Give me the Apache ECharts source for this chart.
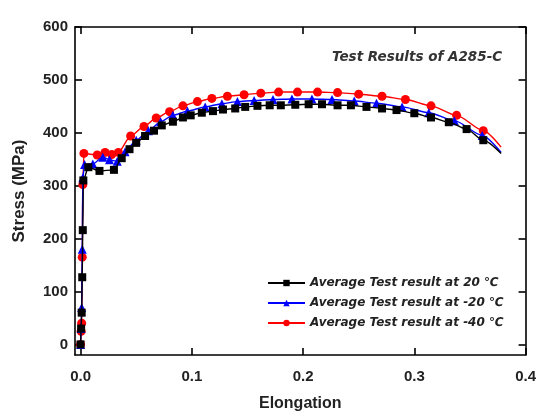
<!DOCTYPE html>
<html><head><meta charset="utf-8">
<script src="https://cdn.jsdelivr.net/npm/echarts@6/dist/echarts.min.js"></script>
<style>html,body{margin:0;padding:0;background:#fff}#c{width:539px;height:417px}</style>
</head><body><div id="c"></div>
<script>
var seriesNames = ['Average Test result at 20 \u2103', 'Average Test result at -20 \u2103', 'Average Test result at -40 \u2103'];
var xTicks = [0, 0.1, 0.2, 0.3, 0.4];
var yTicks = [0, 100, 200, 300, 400, 500, 600];
var titleText = 'Test Results of A285-C';

var strain20 = [0, 0.0005, 0.001, 0.0015, 0.002, 0.0025, 0.007, 0.017, 0.030, 0.037, 0.044, 0.050, 0.058, 0.066, 0.073, 0.083, 0.092, 0.099, 0.109, 0.119, 0.128, 0.139, 0.148, 0.159, 0.170, 0.180, 0.193, 0.205, 0.217, 0.231, 0.243, 0.257, 0.271, 0.284, 0.300, 0.315, 0.331, 0.347, 0.362, 0.378];
var stress20 = [0, 30, 60, 127, 216, 310, 335, 328, 330, 352, 369, 381, 394, 404, 414, 421, 429, 433, 438, 441, 444, 446, 449, 451, 452, 452, 453, 454, 454, 452, 452, 449, 446, 443, 437, 429, 420, 407, 386, 361];

var strainM20 = [0, 0.0005, 0.001, 0.0015, 0.002, 0.0036, 0.011, 0.020, 0.026, 0.033, 0.040, 0.050, 0.061, 0.072, 0.083, 0.096, 0.112, 0.127, 0.141, 0.156, 0.173, 0.190, 0.208, 0.226, 0.246, 0.266, 0.289, 0.313, 0.336, 0.361, 0.378];
var stressM20 = [0, 30, 70, 180, 315, 340, 341, 354, 349, 346, 364, 386, 404, 421, 433, 441, 449, 455, 459, 461, 463, 464, 464, 463, 460, 456, 449, 438, 423, 395, 363];

var strainM40 = [0, 0.0005, 0.001, 0.0015, 0.002, 0.003, 0.015, 0.022, 0.028, 0.034, 0.045, 0.057, 0.068, 0.080, 0.092, 0.105, 0.118, 0.132, 0.147, 0.162, 0.178, 0.195, 0.213, 0.231, 0.250, 0.271, 0.292, 0.315, 0.338, 0.362, 0.378];
var stressM40 = [0, 25, 40, 165, 302, 361, 358, 363, 359, 363, 394, 412, 428, 440, 451, 459, 465, 469, 472, 475, 477, 477, 477, 476, 473, 469, 463, 451, 433, 404, 373];

function pts(xs, ys) {
  return xs.map(function (x, i) {
    var p = { value: [x, ys[i]] };
    if (i === xs.length - 1) p.symbol = 'none';
    return p;
  });
}

var colors = ['#000000', '#0000ff', '#ff0000'];
var symbols = ['rect', 'triangle', 'circle'];
var sizes = [8, 9, 9];
var datas = [pts(strain20, stress20), pts(strainM20, stressM20), pts(strainM40, stressM40)];

var chart = echarts.init(document.getElementById('c'), null, { renderer: 'canvas' });
var font = 'Liberation Sans, Arial, sans-serif';
var wfont = 'DejaVu Sans, sans-serif';
var axLine = { show: true, onZero: false, lineStyle: { color: '#000', width: 1.6 } };
var tick = function (vals) {
  return { show: true, inside: true, length: 7, customValues: vals, lineStyle: { color: '#000', width: 1.6 } };
};

chart.setOption({
  animation: false,
  backgroundColor: '#fff',
  grid: { left: 75, right: 10, top: 27, bottom: 55 },
  title: {
    text: titleText, left: 327, top: 45,
    textStyle: { fontFamily: wfont, fontSize: 13.5, fontWeight: 'bold', fontStyle: 'italic', color: '#333' }
  },
  legend: {
    orient: 'vertical', left: 262, top: 272,
    itemWidth: 37, itemHeight: 8, itemGap: 8,
    textStyle: { fontFamily: wfont, fontSize: 12, fontWeight: 'bold', fontStyle: 'italic', color: '#222' },
    data: seriesNames
  },
  xAxis: [{
    type: 'value', min: -0.005, max: 0.4, position: 'bottom',
    name: 'Elongation', nameLocation: 'middle', nameGap: 41,
    nameTextStyle: { fontFamily: font, fontSize: 16, fontWeight: 'bold', color: '#222' },
    axisLine: axLine, splitLine: { show: false },
    axisTick: tick(xTicks),
    axisLabel: { customValues: xTicks, margin: 14, fontFamily: font, fontSize: 15, fontWeight: 'bold', color: '#222',
      formatter: function (v) { return v.toFixed(1); } }
  }, {
    type: 'value', min: -0.005, max: 0.4, position: 'top',
    axisLine: axLine, splitLine: { show: false },
    axisTick: tick(xTicks),
    axisLabel: { show: false, customValues: xTicks }
  }],
  yAxis: [{
    type: 'value', min: -20, max: 600, position: 'left',
    name: 'Stress (MPa)', nameLocation: 'middle', nameGap: 47, nameRotate: 90,
    nameTextStyle: { fontFamily: font, fontSize: 17, fontWeight: 'bold', color: '#222' },
    axisLine: axLine, splitLine: { show: false },
    axisTick: tick(yTicks),
    axisLabel: { customValues: yTicks, margin: 7, fontFamily: font, fontSize: 15, fontWeight: 'bold', color: '#222' }
  }, {
    type: 'value', min: -20, max: 600, position: 'right',
    axisLine: axLine, splitLine: { show: false },
    axisTick: tick(yTicks),
    axisLabel: { show: false, customValues: yTicks }
  }],
  series: seriesNames.map(function (n, i) {
    return {
      name: n, type: 'line', data: datas[i],
      symbol: symbols[i], symbolSize: sizes[i],
      smooth: 0.25, smoothMonotone: 'x',
      lineStyle: { color: colors[i], width: 1.4 },
      itemStyle: { color: colors[i] },
      z: 3 - i
    };
  })
});
</script></body></html>
